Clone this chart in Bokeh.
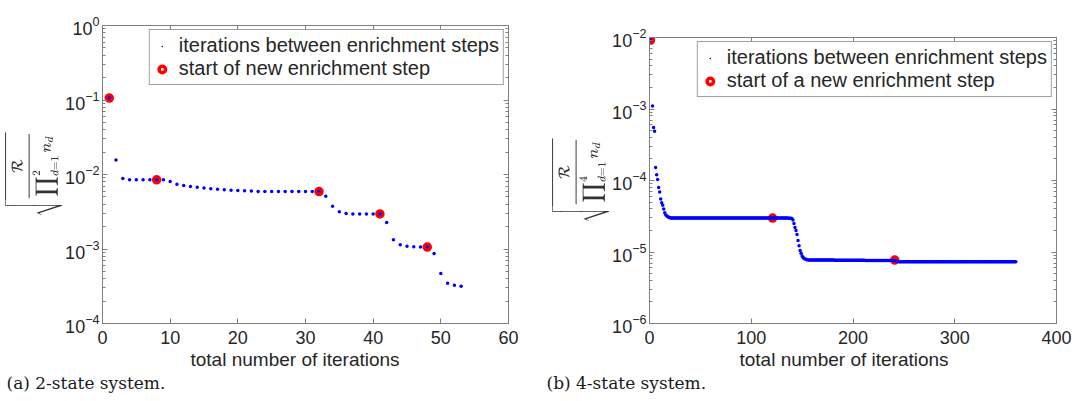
from bokeh.plotting import figure
from bokeh.models import (Range1d, LinearAxis, LogAxis, LogTicker, SingleIntervalTicker,
                          Legend, LegendItem, Title, CustomJSTickFormatter, ColumnDataSource)
from bokeh.layouts import row, column
from bokeh.embed import file_html
from bokeh.resources import INLINE

# ---------------- data: (a) 2-state system ----------------
iters_a = list(range(1, 54))
resid_a = [0.106, 0.0157, 0.00883, 0.00848, 0.00848, 0.00848, 0.00848, 0.00848, 0.00848, 0.00805,
           0.00741, 0.00711, 0.0069, 0.00676, 0.0066, 0.00646, 0.00635, 0.00622, 0.00616, 0.0061,
           0.00605, 0.006, 0.0059, 0.0059, 0.0059, 0.0059, 0.0059, 0.0059, 0.0059, 0.0059,
           0.0059, 0.0059, 0.0051, 0.00376, 0.00316, 0.0030, 0.00296, 0.00296, 0.00296, 0.00296,
           0.00296, 0.00227, 0.00133, 0.00114, 0.00109, 0.00107, 0.00106, 0.00106, 0.00087, 0.00047,
           0.000347, 0.000327, 0.000317]
enrich_iters_a = [1, 8, 32, 41, 48]
enrich_resid_a = [0.106, 0.00848, 0.0059, 0.00296, 0.00106]

# ---------------- data: (b) 4-state system ----------------
iters_b = [1] + list(range(3, 361))
resid_b = [
    9.2e-3, 1.1e-3, 5.5e-4, 4.9e-4, 1.52e-4, 1.2e-4, 1.03e-4, 8.0e-5, 6.9e-5, 5.5e-5,          # 1,3..11
    4.9e-5, 4.5e-5, 4.0e-5, 3.55e-5, 3.3e-5, 3.18e-5, 3.1e-5, 3.05e-5, 3.02e-5, 3.0e-5,        # 12..21
    3.0e-5, 2.99e-5, 2.99e-5, 2.99e-5, 2.99e-5, 2.99e-5, 2.99e-5, 2.99e-5, 2.99e-5, 2.99e-5,  # 22..31
    2.99e-5, 2.99e-5, 2.99e-5, 2.99e-5, 2.99e-5, 2.99e-5, 2.99e-5, 2.99e-5, 2.99e-5, 2.99e-5,  # 32..41
    2.99e-5, 2.99e-5, 2.99e-5, 2.99e-5, 2.99e-5, 2.99e-5, 2.99e-5, 2.99e-5, 2.99e-5, 2.99e-5,  # 42..51
    2.98e-5, 2.98e-5, 2.98e-5, 2.98e-5, 2.98e-5, 2.98e-5, 2.98e-5, 2.98e-5, 2.98e-5, 2.98e-5,  # 52..61
    2.98e-5, 2.98e-5, 2.98e-5, 2.98e-5, 2.98e-5, 2.98e-5, 2.98e-5, 2.98e-5, 2.98e-5, 2.98e-5,  # 62..71
    2.98e-5, 2.98e-5, 2.98e-5, 2.98e-5, 2.98e-5, 2.98e-5, 2.98e-5, 2.98e-5, 2.98e-5, 2.98e-5,  # 72..81
    2.98e-5, 2.98e-5, 2.98e-5, 2.98e-5, 2.98e-5, 2.98e-5, 2.98e-5, 2.98e-5, 2.98e-5, 2.98e-5,  # 82..91
    2.98e-5, 2.98e-5, 2.98e-5, 2.98e-5, 2.98e-5, 2.98e-5, 2.98e-5, 2.98e-5, 2.98e-5, 2.98e-5,  # 92..101
    2.98e-5, 2.98e-5, 2.98e-5, 2.98e-5, 2.98e-5, 2.98e-5, 2.98e-5, 2.98e-5, 2.98e-5, 2.98e-5,  # 102..111
    2.98e-5, 2.98e-5, 2.98e-5, 2.98e-5, 2.98e-5, 2.98e-5, 2.98e-5, 2.98e-5, 2.98e-5, 2.98e-5,  # 112..121
    2.98e-5, 2.98e-5, 2.98e-5, 2.98e-5, 2.98e-5, 2.98e-5, 2.98e-5, 2.98e-5, 2.98e-5, 2.98e-5,  # 122..131
    2.98e-5, 2.98e-5, 2.98e-5, 2.98e-5, 2.98e-5, 2.97e-5, 2.97e-5, 2.96e-5, 2.95e-5, 2.8e-5,   # 132..141
    2.5e-5, 2.2e-5, 2.0e-5, 1.75e-5, 1.45e-5, 1.22e-5, 1.05e-5, 9.6e-6, 8.8e-6, 8.4e-6,        # 142..151
    8.1e-6, 7.95e-6, 7.85e-6, 7.78e-6, 7.7e-6, 7.7e-6, 7.7e-6, 7.7e-6, 7.7e-6, 7.7e-6,         # 152..161
    7.7e-6, 7.7e-6, 7.7e-6, 7.7e-6, 7.7e-6, 7.7e-6, 7.7e-6, 7.7e-6, 7.7e-6, 7.7e-6,            # 162..171
    7.7e-6, 7.7e-6, 7.7e-6, 7.7e-6, 7.7e-6, 7.7e-6, 7.7e-6, 7.7e-6, 7.7e-6, 7.7e-6,            # 172..181
    7.65e-6, 7.65e-6, 7.65e-6, 7.65e-6, 7.65e-6, 7.65e-6, 7.65e-6, 7.65e-6, 7.65e-6, 7.65e-6,  # 182..191
    7.65e-6, 7.65e-6, 7.65e-6, 7.65e-6, 7.65e-6, 7.65e-6, 7.65e-6, 7.65e-6, 7.65e-6, 7.65e-6,  # 192..201
    7.65e-6, 7.65e-6, 7.65e-6, 7.65e-6, 7.65e-6, 7.65e-6, 7.65e-6, 7.65e-6, 7.65e-6, 7.65e-6,  # 202..211
    7.6e-6, 7.6e-6, 7.6e-6, 7.6e-6, 7.6e-6, 7.6e-6, 7.6e-6, 7.6e-6, 7.6e-6, 7.6e-6,            # 212..221
    7.6e-6, 7.6e-6, 7.6e-6, 7.6e-6, 7.6e-6, 7.6e-6, 7.6e-6, 7.6e-6, 7.6e-6, 7.6e-6,            # 222..231
    7.6e-6, 7.6e-6, 7.6e-6, 7.6e-6, 7.6e-6, 7.6e-6, 7.6e-6, 7.6e-6, 7.6e-6, 7.6e-6,            # 232..241
    7.5e-6, 7.4e-6, 7.35e-6, 7.3e-6, 7.3e-6, 7.3e-6, 7.3e-6, 7.3e-6, 7.3e-6, 7.3e-6,           # 242..251
    7.3e-6, 7.3e-6, 7.3e-6, 7.3e-6, 7.3e-6, 7.3e-6, 7.3e-6, 7.3e-6, 7.3e-6, 7.3e-6,            # 252..261
    7.3e-6, 7.3e-6, 7.3e-6, 7.3e-6, 7.3e-6, 7.3e-6, 7.3e-6, 7.3e-6, 7.3e-6, 7.3e-6,            # 262..271
    7.3e-6, 7.3e-6, 7.3e-6, 7.3e-6, 7.3e-6, 7.3e-6, 7.3e-6, 7.3e-6, 7.3e-6, 7.3e-6,            # 272..281
    7.3e-6, 7.3e-6, 7.3e-6, 7.3e-6, 7.3e-6, 7.3e-6, 7.3e-6, 7.3e-6, 7.3e-6, 7.3e-6,            # 282..291
    7.3e-6, 7.3e-6, 7.3e-6, 7.3e-6, 7.3e-6, 7.3e-6, 7.3e-6, 7.3e-6, 7.3e-6, 7.3e-6,            # 292..301
    7.3e-6, 7.3e-6, 7.3e-6, 7.3e-6, 7.3e-6, 7.3e-6, 7.3e-6, 7.3e-6, 7.3e-6, 7.3e-6,            # 302..311
    7.3e-6, 7.3e-6, 7.3e-6, 7.3e-6, 7.3e-6, 7.3e-6, 7.3e-6, 7.3e-6, 7.3e-6, 7.3e-6,            # 312..321
    7.3e-6, 7.3e-6, 7.3e-6, 7.3e-6, 7.3e-6, 7.3e-6, 7.3e-6, 7.3e-6, 7.3e-6, 7.3e-6,            # 322..331
    7.3e-6, 7.3e-6, 7.3e-6, 7.3e-6, 7.3e-6, 7.3e-6, 7.3e-6, 7.3e-6, 7.3e-6, 7.3e-6,            # 332..341
    7.3e-6, 7.3e-6, 7.3e-6, 7.3e-6, 7.3e-6, 7.3e-6, 7.3e-6, 7.3e-6, 7.3e-6, 7.3e-6,            # 342..351
    7.3e-6, 7.3e-6, 7.3e-6, 7.3e-6, 7.3e-6, 7.3e-6, 7.3e-6, 7.3e-6, 7.3e-6,                    # 352..360
]
enrich_iters_b = [1, 121, 241]
enrich_resid_b = [9.2e-3, 2.98e-5, 7.7e-6]

label_blue = "iterations between enrichment steps"
label_red_a = "start of new enrichment step"
label_red_b = "start of a new enrichment step"
xlabel = "total number of iterations"
ylabel_a = r"$$\sqrt{\frac{\mathcal{R}}{\displaystyle\prod\nolimits_{d=1}^{2} n_d}}$$"
ylabel_b = r"$$\sqrt{\frac{\mathcal{R}}{\displaystyle\prod\nolimits_{d=1}^{4} n_d}}$$"
caption_a = "(a) 2-state system."
caption_b = "(b) 4-state system."

AX = "#808080"
TXT = "#262626"
FONT = "Liberation Sans"
H = 400


def style_axis(ax, labels=True, log=False):
    ax.axis_line_color = AX
    ax.major_tick_line_color = AX
    ax.minor_tick_line_color = AX if log else None
    ax.major_tick_in = 5
    ax.major_tick_out = 0
    ax.minor_tick_in = 3
    ax.minor_tick_out = 0
    ax.major_label_text_font = FONT
    ax.major_label_text_color = TXT
    if labels:
        ax.major_label_text_font_size = "18px"
        ax.major_label_standoff = 3
    else:
        ax.major_label_text_font_size = "0px"
        ax.major_label_standoff = 0
        ax.axis_label_standoff = 0
        ax.formatter = CustomJSTickFormatter(code="return ''")


def panel(iters, resid, e_iters, e_resid, xmax, xstep, ylow, yhigh, red_label, ylabel, caption,
          w, b_left, b_right, b_top, xlab_offset, cap_offset):
    p = figure(width=w, height=H, y_axis_type="log",
               x_range=Range1d(0, xmax), y_range=Range1d(ylow, yhigh),
               output_backend="svg", toolbar_location=None,
               min_border_left=b_left, min_border_right=b_right, min_border_top=b_top,
               min_border_bottom=H - 323)
    p.grid.visible = False
    p.outline_line_color = AX
    p.background_fill_color = "white"
    p.border_fill_color = "white"

    src = ColumnDataSource(dict(x=iters, y=resid))
    esrc = ColumnDataSource(dict(x=e_iters, y=e_resid))
    red = p.scatter("x", "y", source=esrc, marker="circle", size=6, fill_color=None,
                    line_color="#ff0000", line_width=3.5)
    blue = p.scatter("x", "y", source=src, marker="dot", size=14, line_color="#0000ff",
                     fill_color="#0000ff")

    xa = p.below[0]
    ya = p.left[0]
    xt = SingleIntervalTicker(interval=xstep, num_minor_ticks=0)
    yt = LogTicker(num_minor_ticks=10)
    xa.ticker = xt
    ya.ticker = yt
    style_axis(xa)
    xa.major_label_standoff = 7
    style_axis(ya, log=True)
    top = LinearAxis(ticker=xt)
    style_axis(top, labels=False)
    p.add_layout(top, "above")
    right = LogAxis(ticker=yt)
    style_axis(right, labels=False, log=True)
    p.add_layout(right, "right")

    ya.axis_label = ylabel
    ya.axis_label_text_font_size = "13px"
    ya.axis_label_text_color = "#333333"
    ya.axis_label_standoff = 0

    legend = Legend(items=[LegendItem(label=label_blue, renderers=[blue]),
                           LegendItem(label=red_label, renderers=[red])],
                    location="top_right", margin=4, padding=4, spacing=0,
                    label_text_font=FONT, label_text_font_size="20px", label_text_color=TXT,
                    border_line_color="#404040", border_line_width=1,
                    glyph_width=16, glyph_height=16, label_standoff=9,
                    background_fill_color="white", background_fill_alpha=1)
    p.add_layout(legend)

    xt_title = Title(text=xlabel, align="left", text_font=FONT, text_font_size="19px",
                     text_font_style="normal", text_color=TXT, offset=xlab_offset, standoff=0)
    p.add_layout(xt_title, "below")
    cap = Title(text=caption, align="left", text_font="DejaVu Serif", text_font_size="17px",
                text_font_style="normal", text_color="#1a1a1a", offset=cap_offset, standoff=2)
    p.add_layout(cap, "below")
    return p


# left panel: frame x 102..508, y 25..323 (page coordinates)
pa = panel(iters_a, resid_a, enrich_iters_a, enrich_resid_a, 60, 10, 1e-4, 1.0, label_red_a,
           ylabel_a, caption_a, 540, 102, 32, 25, 88, -96)
# right panel: frame x 649..1056, y 37..323
pb = panel(iters_b, resid_b, enrich_iters_b, enrich_resid_b, 400, 100, 1e-6, 1e-2, label_red_b,
           ylabel_b, caption_b, 538, 109, 22, 37, 90, -103)

layout = row(column(pa), column(pb))
open("out.html", "w").write(file_html(layout, INLINE))
